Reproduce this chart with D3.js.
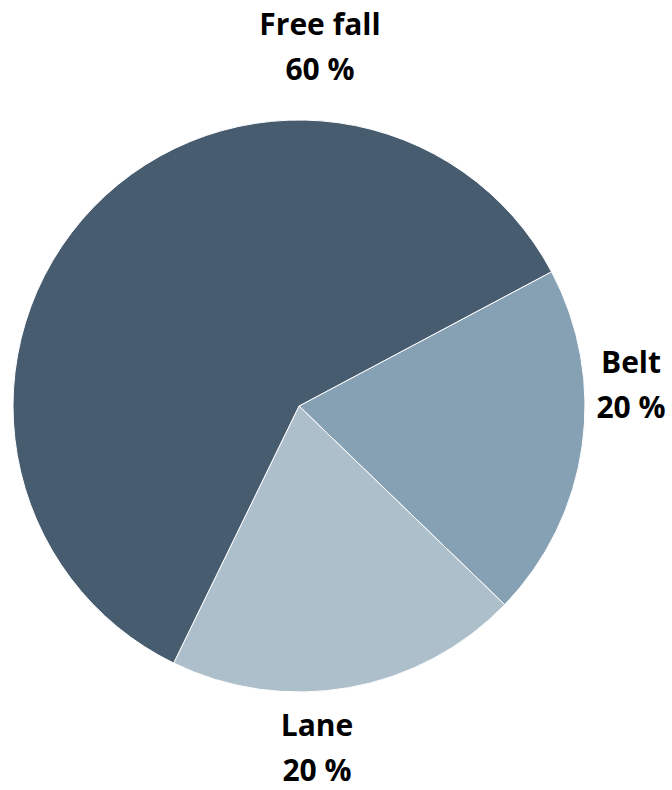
<!DOCTYPE html>
<html><head><meta charset="utf-8">
<script src="https://cdn.jsdelivr.net/npm/d3@7"></script>
<style>body{margin:0;background:#fff}svg{display:block}</style>
</head><body>
<script>
const categories = ["Belt", "Lane", "Free fall"];
const values = [20, 20, 60];
const colors = ["#86a1b4", "#aebfcc", "#475c6f"];

const W = 672, H = 790;
const cx = 299, cy = 406, R = 286;
const svg = d3.select("body").append("svg").attr("width", W).attr("height", H);
const g = svg.append("g").attr("transform", `translate(${cx},${cy})`);
const start = 62 * Math.PI / 180;
const pie = d3.pie().sort(null).value(d => d.v).startAngle(start).endAngle(start + 2 * Math.PI);
const data = categories.map((c, i) => ({c, v: values[i], col: colors[i]}));
const arcs = pie(data);
const arc = d3.arc().innerRadius(0).outerRadius(R);
g.selectAll("path").data(arcs).enter().append("path")
  .attr("d", arc).attr("fill", d => d.data.col)
  .attr("stroke", "#fff").attr("stroke-width", 1);

const labelPos = {"Free fall": [320, 35], "Belt": [631, 373], "Lane": [317, 736]};
const font = "'Open Sans', sans-serif";
data.forEach(d => {
  const [x, y] = labelPos[d.c];
  const t = svg.append("text").attr("text-anchor", "middle")
    .attr("font-family", font).attr("font-weight", 700).attr("font-size", 30).attr("fill", "#000");
  t.append("tspan").attr("x", x).attr("y", y).text(d.c);
  t.append("tspan").attr("x", x).attr("y", y + 45).text(d.v + " %");
});
</script>
</body></html>
